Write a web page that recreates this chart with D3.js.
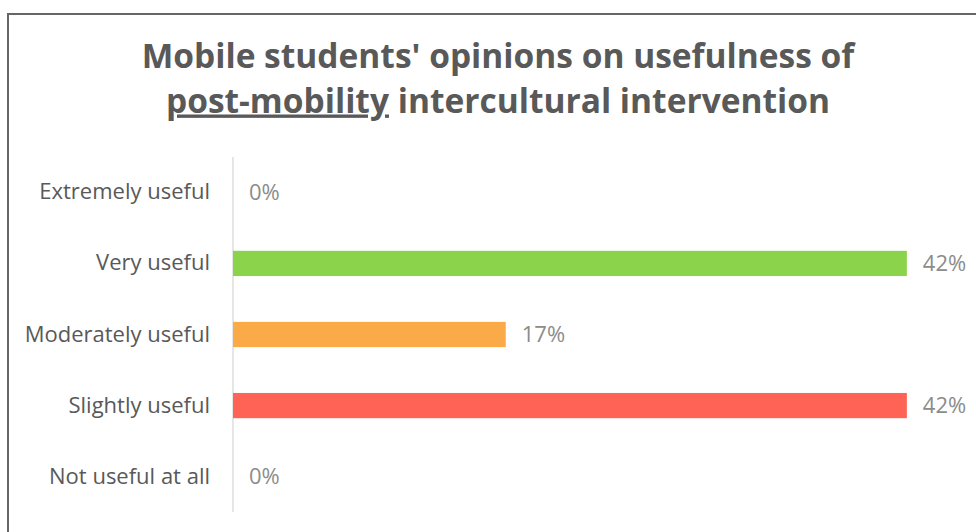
<!DOCTYPE html>
<html>
<head>
<meta charset="utf-8">
<script src="https://cdn.jsdelivr.net/npm/d3@7"></script>
<style>
  html, body { margin: 0; padding: 0; background: #fff; }
  svg { display: block; }
</style>
</head>
<body>
<svg id="chart" width="976" height="532"></svg>
<script>
// Survey answers, top to bottom
const categories = ["Extremely useful", "Very useful", "Moderately useful", "Slightly useful", "Not useful at all"];
const percentages = [0, 42, 17, 42, 0];
const barColors = ["#8bd34a", "#8bd34a", "#fbaa48", "#ff6355", "#ff6355"];
const valueLabels = ["0%", "42%", "17%", "42%", "0%"];
const titleLine1 = "Mobile students' opinions on usefulness of";
const titleLine2Underlined = "post-mobility";
const titleLine2Rest = " intercultural intervention";

const W = 976, H = 532;
const margin = { left: 233, right: 21, top: 157, bottom: 20 };
const font = "'Open Sans', 'Noto Sans', sans-serif";

const svg = d3.select("#chart");

// frame around the chart area
svg.append("path")
  .attr("d", `M8,${H} L8,14 L${W},14`)
  .attr("fill", "none")
  .attr("stroke", "#666")
  .attr("stroke-width", 2);

// title
const title = svg.append("text")
  .attr("x", 498)
  .attr("text-anchor", "middle")
  .attr("font-family", font)
  .attr("font-weight", 700)
  .attr("font-size", 33.5)
  .attr("fill", "#595959");
title.append("tspan").attr("x", 498).attr("y", 68).text(titleLine1);
const line2 = title.append("tspan").attr("x", 498).attr("y", 112.5);
line2.append("tspan").attr("text-decoration", "underline").text(titleLine2Underlined);
line2.append("tspan").text(titleLine2Rest);

const x = d3.scaleLinear()
  .domain([0, 45])
  .range([margin.left, W - margin.right]);

const y = d3.scaleBand()
  .domain(categories)
  .range([margin.top, H - margin.bottom])
  .paddingInner(0.645)
  .paddingOuter(0.32);

// category axis
const yAxis = d3.axisLeft(y).tickSize(0).tickPadding(23);
const gy = svg.append("g")
  .attr("transform", `translate(${margin.left},0)`)
  .call(yAxis);
gy.select(".domain")
  .attr("stroke", "#d9d9d9")
  .attr("stroke-width", 1.3)
  .attr("d", `M0,${margin.top}V${H - margin.bottom}`);
gy.selectAll(".tick text")
  .attr("font-family", font)
  .attr("font-size", 22)
  .attr("fill", "#595959");

// bars
svg.append("g").selectAll("rect")
  .data(categories)
  .join("rect")
  .attr("x", x(0))
  .attr("y", d => y(d))
  .attr("width", (d, i) => x(percentages[i]) - x(0))
  .attr("height", y.bandwidth())
  .attr("fill", (d, i) => barColors[i]);

// value labels
svg.append("g").selectAll("text")
  .data(categories)
  .join("text")
  .attr("x", (d, i) => x(percentages[i]) + 16)
  .attr("y", d => y(d) + y.bandwidth() / 2)
  .attr("dy", "0.35em")
  .attr("font-family", font)
  .attr("font-size", 22)
  .attr("fill", "#8c8c8c")
  .text((d, i) => valueLabels[i]);
</script>
</body>
</html>
